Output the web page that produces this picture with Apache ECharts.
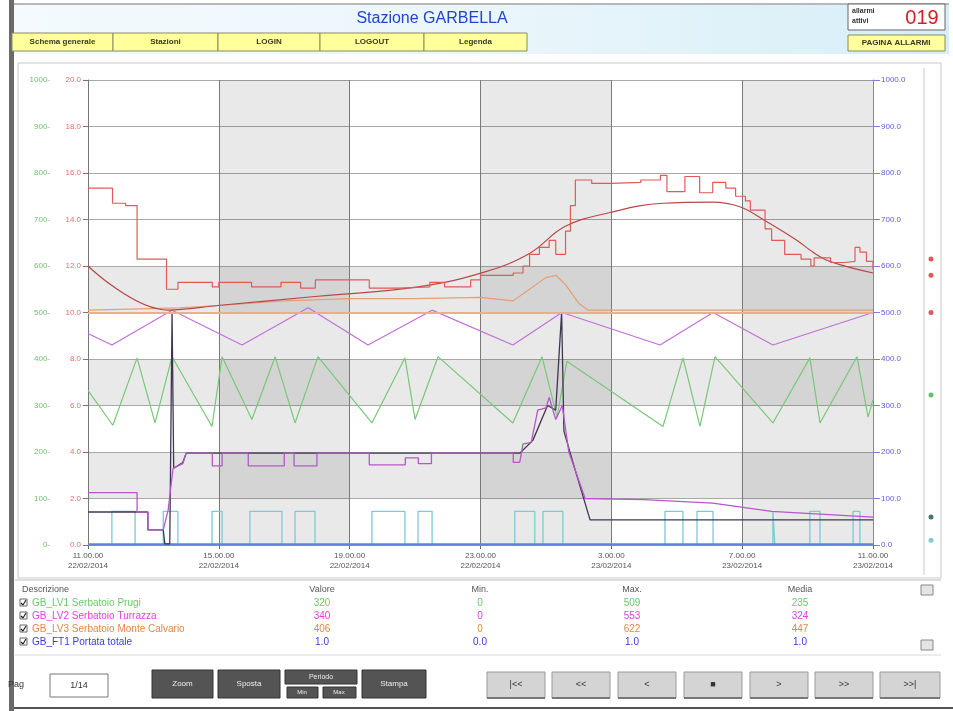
<!DOCTYPE html>
<html><head><meta charset="utf-8">
<script src="https://cdn.jsdelivr.net/npm/echarts@6/dist/echarts.min.js"></script>
<style>html,body{margin:0;padding:0;background:#fff}#c{width:953px;height:711px}</style>
</head><body><div id="c"></div>
<script>
// ---------- DATA ----------
// x = hours since 11.00.00 22/02/2014
const timeLabels = ['11.00.00\n22/02/2014','15.00.00\n22/02/2014','19.00.00\n22/02/2014','23.00.00\n22/02/2014','3.00.00\n23/02/2014','7.00.00\n23/02/2014','11.00.00\n23/02/2014'];
const redTicks = ['0.0','2.0','4.0','6.0','8.0','10.0','12.0','14.0','16.0','18.0','20.0'];
const greenTicks = ['0-','100-','200-','300-','400-','500-','600-','700-','800-','900-','1000-'];
const blueTicks = ['0.0','100.0','200.0','300.0','400.0','500.0','600.0','700.0','800.0','900.0','1000.0'];

// red stepped level
const redStepT = [0,0.75,1.15,1.5,2.4,2.75,3.8,4.0,5.0,5.9,6.5,6.95,8.6,9.5,10.45,10.9,11.7,12.0,13.0,13.3,13.5,13.8,14.1,14.3,14.6,14.75,14.9,15.4,16.0,16.9,17.5,17.7,18.25,18.7,19.1,19.5,19.8,20.1,20.25,20.7,20.9,21.3,21.8,22.1,22.2,22.7,23.15,23.45,23.6,23.8,24];
const redStepV = [15.35,14.7,14.6,12.3,11.0,11.3,11.1,11.3,11.1,11.3,11.05,11.4,11.05,11.1,11.3,11.1,11.4,11.6,11.7,12.0,12.5,12.8,13.1,12.5,13.5,14.6,15.7,15.55,15.6,15.7,15.9,15.2,15.85,15.15,15.6,15.35,15.0,14.8,14.4,13.6,13.1,12.5,12.3,12.0,12.35,12.15,12.2,12.8,12.6,12.2,11.85];
// red smooth line
const redSmoothT = [0,2.45,3.97,7.03,10.09,12.14,13.51,14.58,15.96,17.58,19.11,19.93,20.64,21.68,22.16,22.68,24];
const redSmoothV = [12.0,10.1,10.3,10.7,11.1,11.75,12.55,13.7,14.3,14.7,14.75,14.55,14.0,13.1,12.6,12.2,11.7];
// orange
const orangeT = [0,2.8,4,6,8,10,12,13,13.4,14,14.3,14.6,15,15.3,24];
const orangeV = [10.1,10.2,10.3,10.5,10.6,10.6,10.65,10.5,10.9,11.5,11.6,11.2,10.4,10.1,10.1];
// lilac zigzag
const lilacT = [0,0.73,2.57,4.71,6.73,8.56,10.52,12.99,14.49,17.49,19.11,20.94,24];
const lilacV = [9.1,8.6,10.1,8.6,10.2,8.6,10.1,8.6,10.0,8.6,10.0,8.6,10.0];
// green zigzag
const greenT = [0,0.76,1.5,2.05,2.57,3.79,4.1,5.01,5.72,6.33,7.03,8.68,9.69,10.0,10.7,12.99,13.88,14.34,14.64,17.58,18.19,18.71,19.17,20.94,22.07,22.38,23.51,23.85,24];
const greenV = [6.65,5.15,8.05,5.25,8.1,5.1,8.1,5.4,8.1,5.25,8.1,5.25,8.05,5.4,8.1,5.25,8.1,5.5,7.9,5.1,8.05,5.1,8.1,5.25,8.05,5.25,8.1,5.5,6.25];
// magenta lower
const magT = [0,1.5,1.5,1.83,1.83,2.3,2.45,2.6,2.9,3.0,3.8,3.8,4.1,4.1,4.9,4.9,6.0,6.0,6.3,6.3,7.0,7.0,8.6,8.6,9.7,9.7,10.1,10.1,10.5,10.5,13.0,13.0,13.2,13.3,13.55,13.75,14.0,14.1,14.3,14.5,14.7,15.2,17.0,19.1,20.9,24];
const magV = [2.25,2.25,1.42,1.42,0.65,0.65,1.5,3.3,3.5,3.95,3.95,3.4,3.4,3.95,3.95,3.4,3.4,3.95,3.95,3.4,3.4,3.95,3.95,3.45,3.45,3.75,3.75,3.5,3.5,3.95,3.95,3.55,3.55,4.35,4.4,5.8,5.9,6.35,5.4,6.0,4.0,2.0,1.95,1.8,1.45,1.2];
// dark line
const darkT = [0,1.83,1.83,2.3,2.35,2.5,2.57,2.62,2.9,3.0,13.2,13.6,14.05,14.3,14.48,14.55,14.9,15.35,24];
const darkV = [1.42,1.42,0.65,0.65,0.05,0.05,10.0,3.3,3.55,3.95,3.95,4.5,6.0,5.8,10.0,4.9,3.2,1.08,1.08];
// cyan pulses
const cyanOn  = [0.73,2.3,3.79,4.95,6.33,8.68,10.09,13.05,13.91,17.64,18.62,20.94,22.07,23.39];
const cyanOff = [1.44,2.75,4.1,5.93,6.94,9.69,10.52,13.66,14.52,18.19,19.11,21.0,22.38,23.6];
const cyanHigh = 1.45;
// blue flow (right axis)
const blueT = [0,24];
const blueV = [1.0,1.0];
// current-value markers (right column)
const markerV = [12.3,11.6,10.0,6.45,1.2,0.2];
const markerC = ['#d83030','#d83030','#d83030','#40b040','#1c4f4f','#60c0c0'];
// legend table
const legNames = ['GB_LV1 Serbatoio Prugi','GB_LV2 Serbatoio Turrazza','GB_LV3 Serbatoio Monte Calvario','GB_FT1 Portata totale'];
const legColors = ['#6cc86c','#e040e0','#e08848','#3a3ae0'];
const legValore = ['320','340','406','1.0'];
const legMin = ['0','0','0','0.0'];
const legMax = ['509','553','622','1.0'];
const legMedia = ['235','324','447','1.0'];

// ---------- BUILD ----------
const pair = (t,v)=>t.map((x,i)=>[x,v[i]]);
const cyanData = [[0,0]];
cyanOn.forEach((s,i)=>{cyanData.push([s,0],[s,cyanHigh],[cyanOff[i],cyanHigh],[cyanOff[i],0]);});
cyanData.push([24,0]);

const FONT = 'Liberation Sans';
const G = [];
function rect(x,y,w,h,fill,stroke,lw){G.push({type:'rect',shape:{x,y,width:w,height:h},style:{fill:fill||'none',stroke:stroke||null,lineWidth:lw||1},silent:true});}
function text(x,y,t,o){o=o||{};G.push({type:'text',x,y,style:Object.assign({text:t,fill:'#333',font:(o.bold?'bold ':'')+(o.size||9)+'px '+FONT,textAlign:o.align||'left',textVerticalAlign:'middle'},o.style||{}),silent:true});}
function line(x1,y1,x2,y2,c,w){G.push({type:'line',shape:{x1,y1,x2,y2},style:{stroke:c,lineWidth:w||1},silent:true});}

// window left bar and bottom
rect(9,0,5,711,'#6a6a6a');
line(14,708,953,708,'#555',2);
// header band
G.push({type:'rect',shape:{x:14,y:4,width:935,height:50},style:{fill:new echarts.graphic.LinearGradient(0,0,1,0,[{offset:0,color:'#f4fafd'},{offset:0.5,color:'#eaf6fb'},{offset:1,color:'#d6eef7'}])},silent:true});
line(14,4,949,4,'#b8b8b8',2);
text(432,19,'Stazione GARBELLA',{size:16,style:{fill:'#2244cc'},align:'center'});
const topBtn = [['Schema generale',12,113],['Stazioni',113,218],['LOGIN',218,320],['LOGOUT',320,424],['Legenda',424,527]];
topBtn.forEach(b=>{rect(b[1],33,b[2]-b[1],18,'#ffff9c','#8a8a60');text((b[1]+b[2])/2,42,b[0],{bold:true,size:8,align:'center',style:{fill:'#3a3a20'}});});
rect(848,4,97,26,'#ffffff','#666');
text(852,11,'allarmi',{size:7,bold:true});
text(852,21,'attivi',{size:7,bold:true});
text(922,18,'019',{size:20,align:'center',style:{fill:'#d02020'}});
rect(848,35,97,16,'#ffff9c','#8a8a60');
text(896,43,'PAGINA ALLARMI',{bold:true,size:8,align:'center',style:{fill:'#3a3a20'}});
// chart frame
rect(18,63,923,515,'none','#c8c8c8');
line(924,68,924,575,'#c8c8c8',1);
// legend table
line(15,580,941,580,'#bdbdbd',1);
text(22,590,'Descrizione',{size:9,style:{fill:'#555'}});
text(322,590,'Valore',{size:9,align:'center',style:{fill:'#555'}});
text(480,590,'Min.',{size:9,align:'center',style:{fill:'#555'}});
text(632,590,'Max.',{size:9,align:'center',style:{fill:'#555'}});
text(800,590,'Media',{size:9,align:'center',style:{fill:'#555'}});
legNames.forEach((n,i)=>{
  const y = 603 + i*13;
  rect(20,y-4,7,7,'#fff','#666');
  line(21,y,23,y+2,'#222',1.2);line(23,y+2,26,y-3,'#222',1.2);
  text(32,y,n,{size:10,style:{fill:legColors[i]}});
  text(322,y,legValore[i],{size:10,align:'center',style:{fill:legColors[i]}});
  text(480,y,legMin[i],{size:10,align:'center',style:{fill:legColors[i]}});
  text(632,y,legMax[i],{size:10,align:'center',style:{fill:legColors[i]}});
  text(800,y,legMedia[i],{size:10,align:'center',style:{fill:legColors[i]}});
});
rect(921,585,12,10,'#e4e4e4','#888');rect(921,640,12,10,'#e4e4e4','#888');
line(15,655,941,655,'#d8d8d8',1);
// bottom controls
text(8,685,'Pag',{size:9});
rect(50,674,58,23,'#fff','#777');
text(79,686,'1/14',{size:9,align:'center'});
[['Zoom',152,213],['Sposta',218,280],['Stampa',362,426]].forEach(b=>{rect(b[1],670,b[2]-b[1],28,'#545454','#333');text((b[1]+b[2])/2,684,b[0],{size:8,align:'center',style:{fill:'#eee'}});});
rect(285,670,72,14,'#545454','#333');text(321,677,'Periodo',{size:7,align:'center',style:{fill:'#eee'}});
rect(287,687,31,11,'#545454','#333');text(302,692,'Min',{size:6,align:'center',style:{fill:'#eee'}});
rect(323,687,33,11,'#545454','#333');text(339,692,'Max',{size:6,align:'center',style:{fill:'#eee'}});
[['|<<',487,545],['<<',552,610],['<',618,676],['\u25A0',684,742],['>',750,808],['>>',815,873],['>>|',880,940]].forEach(b=>{rect(b[1],672,b[2]-b[1],26,'#d4d4d4','#9a9a9a');line(b[1],698,b[2],698,'#777',2);text((b[1]+b[2])/2,685,b[0],{size:9,align:'center',style:{fill:'#333'}});});

const tr = 'rgba(0,0,0,0)', gr = 'rgba(0,0,0,0.085)';
const lbl = {fontFamily:FONT,fontSize:8};
const option = {
  animation:false,
  backgroundColor:'#fff',
  grid:[{left:88,right:80,top:80,bottom:166,containLabel:false},{left:927,width:8,top:80,bottom:166}],
  xAxis:[{
    type:'value',min:0,max:24,interval:4,gridIndex:0,
    axisLine:{show:false},axisTick:{show:true,length:4,lineStyle:{color:'#666'}},
    axisLabel:Object.assign({color:'#555',lineHeight:10,margin:6,formatter:v=>timeLabels[Math.round(v/4)]},lbl),
    splitLine:{show:true,lineStyle:{color:'#7a7a7a',width:1}},
    splitArea:{show:true,areaStyle:{color:[tr,gr]}}
  },{type:'value',min:0,max:1,gridIndex:1,show:false}],
  yAxis:[{
    type:'value',min:0,max:20,interval:2,position:'left',gridIndex:0,
    axisLine:{show:true,lineStyle:{color:'#777'}},axisTick:{show:true,length:5,lineStyle:{color:'#777'}},
    axisLabel:Object.assign({color:'#e07070',margin:7,formatter:v=>redTicks[Math.round(v/2)]},lbl),
    splitLine:{show:true,lineStyle:{color:'#a8a8a8',width:1}},
    splitArea:{show:true,areaStyle:{color:[tr,gr,tr,gr,tr,gr,tr,tr,tr,tr]}}
  },{
    type:'value',min:0,max:1000,interval:100,position:'left',offset:34,gridIndex:0,
    axisLine:{show:false},axisTick:{show:false},splitLine:{show:false},
    axisLabel:Object.assign({color:'#70c070',margin:4,formatter:v=>greenTicks[Math.round(v/100)]},lbl)
  },{
    type:'value',min:0,max:1000,interval:100,position:'right',gridIndex:0,
    axisLine:{show:true,lineStyle:{color:'#8a8a8a'}},axisTick:{show:true,length:7,lineStyle:{color:'#8080d0'}},splitLine:{show:false},
    axisLabel:Object.assign({color:'#6060d0',margin:8,formatter:v=>blueTicks[Math.round(v/100)]},lbl)
  },{type:'value',min:0,max:20,gridIndex:1,show:false}],
  series:[
    {name:'cyan',type:'line',data:cyanData,symbol:'none',lineStyle:{color:'#78ccd8',width:1.3},z:2},
    {name:'blue',type:'line',yAxisIndex:2,data:pair(blueT,blueV),symbol:'none',lineStyle:{color:'#6080e8',width:2.5},z:3},
    {name:'green',type:'line',data:pair(greenT,greenV),symbol:'none',lineStyle:{color:'#78c878',width:1.2},z:3},
    {name:'lilac',type:'line',data:pair(lilacT,lilacV),symbol:'none',lineStyle:{color:'#c070d8',width:1.2},z:3},
    {name:'orange',type:'line',data:pair(orangeT,orangeV),symbol:'none',lineStyle:{color:'#e0a078',width:1.2},z:3,
      markLine:{silent:true,symbol:'none',label:{show:false},lineStyle:{color:'#eab08a',width:2,type:'solid'},data:[{yAxis:10}]}},
    {name:'redSmooth',type:'line',data:pair(redSmoothT,redSmoothV),smooth:0.4,symbol:'none',lineStyle:{color:'#b84848',width:1.2},z:4},
    {name:'redStep',type:'line',step:'end',data:pair(redStepT,redStepV),symbol:'none',lineStyle:{color:'#e05a5a',width:1.2},z:5},
    {name:'dark',type:'line',data:pair(darkT,darkV),symbol:'none',lineStyle:{color:'#403650',width:1.3},z:4},
    {name:'magenta',type:'line',data:pair(magT,magV),symbol:'none',lineStyle:{color:'#b458c8',width:1.3},z:5},
    {name:'markers',type:'scatter',xAxisIndex:1,yAxisIndex:3,symbolSize:5,data:markerV.map((v,i)=>({value:[0.5,v],itemStyle:{color:markerC[i]}})),z:6}
  ],
  graphic:G
};
const chart = echarts.init(document.getElementById('c'),null,{renderer:'canvas'});
chart.setOption(option);
</script></body></html>
